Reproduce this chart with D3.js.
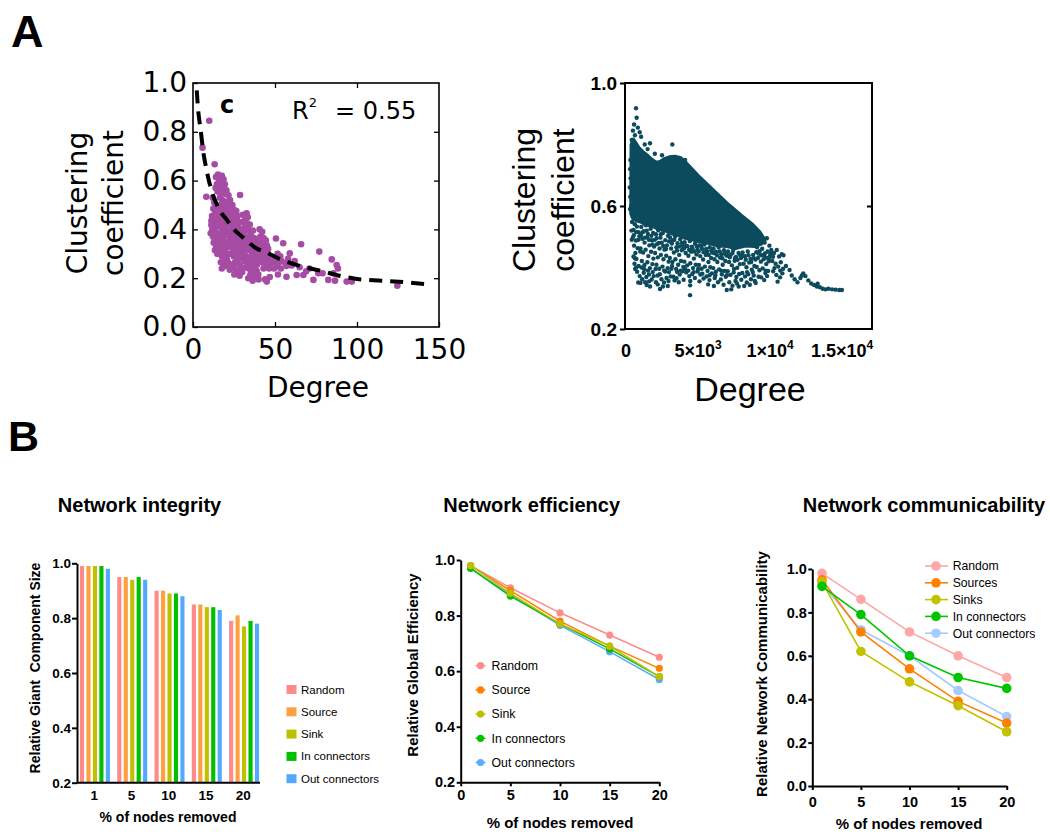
<!DOCTYPE html>
<html>
<head>
<meta charset="utf-8">
<script src="https://cdn.jsdelivr.net/npm/d3@7"></script>
<style>
  body { margin: 0; background: #fff; }
  svg { display: block; }
</style>
</head>
<body>
<svg id="fig" width="1050" height="832"></svg>
<script>
// ---------- Panel A (left): clustering vs degree, small network ----------
const smallNetPoints = [
  [5.8,.735],[9.9,.845],[13.2,.667],[8.1,.534],[28.7,.541],[32.7,.466],[11.2,.418],[10.8,.384],
  [14.0,.615],[15.2,.625],[16.4,.612],[17.6,.62],[18.6,.605],[15.8,.598],[14.6,.585],[17.0,.59],[19.4,.585],
  [13.8,.57],[16.2,.572],[18.2,.565],[20.4,.56],[15.0,.555],[17.4,.55],[19.8,.545],[21.6,.54],
  [12.0,.53],[13.0,.51],[14.2,.50],[12.4,.485],[13.6,.47],[15.4,.48],[11.6,.455],[12.8,.445],[14.0,.44],
  [15.6,.45],[11.2,.435],[12.6,.42],[13.8,.41],[15.2,.42],[11.8,.40],[13.2,.39],[14.6,.385],[12.2,.37],
  [13.6,.36],[15.0,.355],[12.6,.345],[14.2,.33],[15.6,.325],[13.4,.315],[14.8,.30],
  [16.4,.53],[17.8,.52],[19.2,.515],[20.6,.51],[16.8,.50],[18.4,.495],[19.8,.49],[21.2,.49],[17.2,.475],
  [18.8,.47],[20.2,.465],[21.8,.47],[16.6,.455],[18.0,.45],[19.6,.445],[21.0,.445],[17.4,.43],[18.8,.425],
  [20.4,.42],[21.8,.425],[16.8,.41],[18.2,.40],[19.6,.40],[21.2,.395],[17.6,.385],[19.0,.375],[20.6,.38],
  [22.0,.375],[16.6,.365],[18.2,.355],[19.8,.35],[21.4,.35],[17.2,.34],[18.8,.33],[20.4,.325],[22.0,.33],
  [16.8,.315],[18.2,.305],[19.6,.30],[21.2,.30],[17.6,.29],[19.2,.28],[20.8,.275],[17.0,.265],[18.6,.258],
  [20.2,.25],[17.6,.24],[21.8,.26],[22.4,.235],
  [22.6,.52],[24.0,.50],[23.2,.485],[25.0,.48],[26.4,.475],[22.8,.46],[24.4,.455],[25.8,.45],[27.2,.455],
  [23.4,.44],[25.0,.43],[26.6,.435],[28.0,.43],[22.8,.42],[24.2,.41],[25.8,.405],[27.4,.41],[28.8,.40],
  [23.4,.39],[24.8,.385],[26.4,.38],[27.8,.385],[29.4,.38],[22.8,.37],[24.2,.36],[25.6,.355],[27.2,.36],
  [28.6,.355],[23.6,.34],[25.2,.335],[26.8,.33],[28.2,.335],[29.6,.33],[24.4,.315],[26.0,.31],[27.6,.305],
  [29.0,.31],[23.2,.30],[24.8,.29],[26.4,.285],[28.0,.28],[29.4,.285],[25.6,.265],[27.2,.26],[28.8,.255],
  [24.0,.25],[26.0,.235],[27.8,.23],[29.4,.24],[25.2,.215],[28.4,.21],[30.0,.225],
  [30.4,.46],[31.8,.445],[33.4,.45],[30.2,.43],[31.6,.42],[33.0,.425],[34.6,.42],[30.8,.40],[32.2,.395],
  [33.8,.40],[35.2,.39],[36.6,.395],[31.0,.375],[32.6,.37],[34.0,.365],[35.6,.37],[37.0,.365],[38.4,.36],
  [30.6,.35],[32.0,.345],[33.4,.34],[35.0,.345],[36.4,.34],[37.8,.335],[39.2,.34],[31.2,.32],[32.8,.315],
  [34.4,.315],[36.0,.31],[37.4,.315],[38.8,.31],[30.6,.295],[32.2,.29],[33.8,.285],[35.4,.29],[36.8,.285],
  [38.2,.29],[39.6,.28],[31.4,.27],[33.0,.265],[34.6,.26],[36.2,.265],[37.6,.26],[39.0,.255],[32.2,.245],
  [34.0,.24],[35.6,.235],[37.2,.24],[38.8,.23],[33.7,.20],[35.0,.215],[36.8,.21],[38.4,.205],[39.8,.215],
  [36.4,.19],[40.0,.195],
  [40.6,.40],[42.2,.39],[41.0,.37],[42.8,.36],[44.4,.355],[40.4,.345],[41.8,.335],[43.4,.33],[45.0,.335],
  [40.8,.315],[42.4,.31],[44.0,.305],[45.6,.30],[41.2,.29],[42.8,.285],[44.6,.28],[46.2,.285],[47.6,.28],
  [40.6,.27],[42.2,.265],[43.8,.26],[45.4,.255],[47.0,.26],[48.6,.265],[43.0,.24],[46.4,.24],[49.4,.24],
  [44.0,.195],[45.0,.186],[46.8,.205],[43.0,.365],[45.8,.32],
  [50.6,.363],[55,.343],[51.6,.30],[53.2,.29],[50.4,.275],[52.0,.262],[54.0,.27],[56.2,.262],[51.2,.248],
  [53.6,.24],[57.0,.25],[51.8,.215],[57,.206],[59,.302],[60.2,.252],[63.2,.213],[62.0,.27],[58.0,.28],
  [65.9,.339],[65.0,.245],[67.3,.213],[69.0,.228],
  [73.4,.193],[76.4,.22],[77,.309],[71.0,.24],[79,.22],[82.5,.193],[84.6,.277],[85.6,.22],[86.6,.19],
  [87.6,.254],[88.4,.24],[93.7,.186],[96.8,.186],[124.6,.169]
];
// fitted decay curve, sampled along the dashed line
const fitDegree     = [2.3, 3, 4, 5, 6, 7.5, 9, 11.5, 14, 17, 20, 25, 30, 38, 45, 53, 62, 70, 77, 88, 100, 115, 130, 142];
const fitClustering = [0.97, 0.90, 0.84, 0.79, 0.73, 0.67, 0.62, 0.555, 0.51, 0.47, 0.445, 0.40, 0.37, 0.325, 0.305, 0.278, 0.257, 0.242, 0.232, 0.212, 0.197, 0.19, 0.183, 0.176];
const leftYTicks = [0, 0.2, 0.4, 0.6, 0.8, 1.0];
const leftXTicks = [0, 50, 100, 150];

// ---------- Panel A (right): clustering vs degree, large network ----------
// outline of the saturated core of the point cloud (degree, clustering)
const coreOutline = [
  [350,.80],[500,.818],[700,.805],[900,.79],[1200,.776],[1500,.765],[1800,.752],[2100,.742],[2400,.746],
  [2700,.755],[3000,.76],[3400,.762],[3800,.757],[4200,.74],[5000,.70],[6000,.655],[7000,.61],[8000,.57],
  [8800,.54],[9300,.515],[9650,.49],[9400,.476],[8900,.468],[8300,.47],[7600,.462],[7000,.468],[6400,.47],
  [5800,.478],[5200,.482],[4600,.49],[4100,.495],[3600,.505],[3100,.51],[2700,.52],[2200,.525],[1800,.535],
  [1400,.538],[1000,.548],[700,.552],[450,.56],[330,.575]
];
const largeNetPoints = [
  [694,.918],[740,.887],[560,.865],[820,.855],[480,.845],[950,.84],[620,.83],[1050,.825],[400,.815],
  [1300,.80],[1667,.804],[3215,.80],[1500,.785],[2000,.77],[300,.75],[280,.72],[320,.69],[260,.66],
  [300,.63],[350,.60],[280,.59],[4100,.75],[2500,.765],
  [420,.548],[530,.522],[610,.541],[760,.533],[880,.515],[470,.497],[690,.488],[930,.502],[560,.471],
  [810,.463],[650,.447],[990,.452],[720,.428],[590,.412],[880,.405],[770,.386],[950,.372],[640,.395],
  [520,.436],[850,.351],[380,.52],[400,.49],
  [1060,.532],[1230,.518],[1380,.537],[1520,.509],[1710,.526],[1880,.512],[1130,.493],[1290,.481],
  [1470,.498],[1620,.472],[1790,.489],[1950,.468],[1010,.462],[1190,.449],[1360,.458],[1550,.437],
  [1740,.451],[1900,.429],[1100,.421],[1280,.408],[1480,.417],[1660,.398],[1830,.411],[1230,.383],
  [1410,.369],[1590,.377],[1780,.361],[1435,.343],[1920,.372],[1120,.362],[1670,.338],[1330,.352],
  [2080,.508],[2240,.521],[2390,.497],[2560,.512],[2730,.489],[2910,.503],[2150,.476],[2330,.462],
  [2480,.481],[2670,.458],[2840,.472],[2020,.447],[2210,.433],[2420,.441],[2600,.427],[2790,.438],
  [2960,.419],[2110,.409],[2300,.396],[2530,.403],[2720,.387],[2890,.398],[2190,.374],[2361,.33],
  [2460,.362],[2640,.351],[2810,.366],[2080,.352],[2560,.338],[2950,.356],
  [3060,.497],[3240,.488],[3410,.501],[3580,.479],[3760,.492],[3930,.471],[3130,.462],[3320,.449],
  [3500,.466],[3690,.441],[3870,.456],[3040,.431],[3220,.418],[3430,.427],[3620,.409],[3810,.421],
  [3980,.402],[3150,.396],[3287,.37],[3540,.386],[3730,.377],[3910,.388],[3370,.358],[3090,.371],[3660,.352],
  [4070,.482],[4260,.469],[4430,.486],[4610,.463],[4790,.477],[4960,.458],[4140,.447],[4330,.438],
  [4520,.451],[4710,.429],[4890,.442],[4050,.419],[4240,.407],[4460,.414],[4650,.398],[4840,.409],
  [4180,.384],[4390,.372],[4444,.31],[4450,.342],[4460,.356],[4600,.379],[4780,.366],[4970,.387],
  [5080,.472],[5270,.461],[5440,.475],[5630,.452],[5810,.466],[5980,.449],[5150,.437],[5350,.426],
  [5540,.441],[5720,.418],[5900,.431],[5060,.408],[5250,.396],[5470,.403],[5660,.389],[5850,.401],
  [5160,.377],[5380,.364],[5590,.371],[5790,.359],[5960,.381],
  [6070,.462],[6250,.451],[6430,.466],[6620,.443],[6800,.456],[6970,.439],[6140,.427],[6340,.418],
  [6530,.432],[6710,.409],[6890,.421],[6050,.398],[6240,.386],[6460,.394],[6650,.378],[6840,.389],
  [6160,.366],[6380,.352],[6580,.361],[6990,.327],[6770,.344],[6920,.37],
  [7080,.452],[7260,.441],[7440,.457],[7630,.434],[7810,.447],[7980,.431],[7150,.418],[7350,.407],
  [7540,.422],[7720,.399],[7900,.411],[7060,.388],[7250,.376],[7470,.384],[7660,.369],[7850,.379],
  [7170,.352],[7390,.341],[7600,.356],[7820,.338],[7300,.329],
  [8090,.449],[8270,.437],[8450,.452],[8640,.428],[8820,.441],[8990,.426],[8160,.412],[8360,.401],
  [8550,.416],[8730,.393],[8910,.405],[8070,.382],[8260,.371],[8480,.378],[8670,.362],[8860,.374],
  [8380,.351],[8590,.344],[8940,.356],
  [9090,.466],[9270,.453],[9450,.461],[9640,.446],[9820,.452],[9990,.437],[9160,.431],[9360,.419],
  [9550,.427],[9730,.411],[9910,.42],[9070,.402],[9260,.391],[9480,.397],[9670,.382],[9860,.389],
  [9380,.368],[9590,.359],[9790,.372],[9300,.505],[9770,.495],[9620,.481],[9950,.471],
  [10080,.457],[10270,.447],[10460,.457],[10620,.436],[10810,.443],[10926,.44],[10150,.421],[10380,.412],
  [10560,.403],[10740,.417],[10900,.396],[10210,.388],[10430,.376],[10690,.368],[10520,.354],[10850,.381],
  [11100,.405],[11350,.392],[11500,.374],[11700,.362],[11900,.352],[12100,.366],[12300,.381],[12450,.372],
  [12650,.358],[12850,.348],[13050,.343],[13240,.338],[13450,.336],[13650,.331],[13850,.329],[14050,.331],
  [14300,.329],[14550,.328],[14800,.327],[14980,.327],[13300,.347],[12200,.374],
  // fringe just under the saturated core
  [540,.505],[720,.515],[860,.49],[1040,.505],[1160,.515],[1320,.497],[1440,.52],[1590,.49],[1760,.503],
  [1840,.475],[1990,.49],[2120,.495],[2280,.48],[2420,.508],[2580,.47],[2780,.46],[2990,.485],[3180,.478],
  [3350,.49],[3540,.455],[3720,.468],[3880,.48],[4020,.462],[4180,.47],[4380,.457],[4560,.468],[4740,.452],
  [4920,.468],[5040,.452],[5210,.47],[5380,.45],[5560,.46],[5740,.441],[5920,.455],[6120,.447],[6310,.44],
  [6500,.452],[6680,.43],[6860,.445],[7020,.44],[7200,.433],[7390,.447],[7560,.43],[7740,.425],[7930,.44],
  [8120,.437],[8310,.425],[8500,.44],[8690,.418],[8870,.43],[9040,.45],[9200,.445],[9380,.44],[9560,.44],
  [9740,.432],[9920,.43],[10020,.445],[10200,.435],
  [620,.43],[700,.40],[1080,.40],[1260,.395],[1520,.39],[1850,.385],[2050,.395],[2350,.378],[2650,.39],
  [2980,.385],[3200,.405],[3480,.395],[3780,.39],[4100,.395],[4320,.39],[4700,.385],[5000,.395],[5300,.38],
  [5800,.375],[6200,.375],[6600,.39],[7000,.375],[7500,.395],[8000,.36],[8400,.385],[8800,.385],[9200,.37],
  [9700,.39],[10300,.398],[10700,.39],
  [1000,.35],[1600,.355],[2200,.345],[2900,.34],[3500,.365],[4000,.36],[5100,.355],[5700,.345],[6100,.34],
  [7700,.348],[8200,.34],[9000,.35]
];
const rightYTicks = [0.2, 0.6, 1.0];
const rightXTicks = [0, 5000, 10000, 15000];
const rightXMantissa = ["0", "5", "1", "1.5"];
const rightXExponent = ["", "3", "4", "4"];

// ---------- Panel B ----------
const pctRemoved = [1, 5, 10, 15, 20];
const barSeries = ["Random", "Source", "Sink", "In connectors", "Out connectors"];
const barColors = ["#ff8a8a", "#ffa040", "#c0c000", "#00c000", "#55a8ff"];
const giantRandom = [0.99, 0.95, 0.90, 0.85, 0.79];
const giantSource = [0.99, 0.95, 0.90, 0.85, 0.81];
const giantSink   = [0.99, 0.94, 0.89, 0.84, 0.77];
const giantIn     = [0.99, 0.95, 0.89, 0.84, 0.79];
const giantOut    = [0.98, 0.94, 0.88, 0.83, 0.78];

const effSeries = ["Random", "Source", "Sink", "In connectors", "Out connectors"];
const effColors = ["#ff8c8c", "#ff8000", "#bfbf00", "#00c000", "#5caaff"];
const effRandom = [0.98, 0.90, 0.81, 0.73, 0.65];
const effSource = [0.98, 0.89, 0.78, 0.69, 0.61];
const effSink   = [0.98, 0.88, 0.77, 0.69, 0.58];
const effIn     = [0.97, 0.87, 0.77, 0.68, 0.58];
const effOut    = [0.97, 0.875, 0.765, 0.67, 0.57];

const commSeries = ["Random", "Sources", "Sinks", "In connectors", "Out connectors"];
const commColors = ["#ffa6a6", "#ff7f00", "#c2c200", "#00c400", "#a6cbff"];
const commRandom  = [0.98, 0.86, 0.71, 0.60, 0.50];
const commSources = [0.95, 0.71, 0.54, 0.39, 0.29];
const commSinks   = [0.94, 0.62, 0.48, 0.37, 0.25];
const commIn      = [0.92, 0.79, 0.60, 0.50, 0.45];
const commOut     = [0.93, 0.72, 0.60, 0.44, 0.32];

const lineTicksX = [0, 5, 10, 15, 20];
const effTicksY = [0.2, 0.4, 0.6, 0.8, 1.0];
const commTicksY = [0, 0.2, 0.4, 0.6, 0.8, 1.0];

// ---------- drawing ----------
const svg = d3.select("#fig");
const MPL = "'DejaVu Sans', sans-serif";
const ARIAL = "'Liberation Sans', Arial, sans-serif";
const f1 = d3.format(".1f");

function axisFont(g, size, family, weight) {
  g.attr("font-size", size).attr("font-family", family).attr("font-weight", weight);
  g.selectAll("text").attr("fill", "#000");
}

// panel letters
svg.append("text").attr("x", 11).attr("y", 47).attr("font-family", ARIAL).attr("font-weight", "bold")
  .attr("font-size", 45).text("A");
svg.append("text").attr("x", 8).attr("y", 451).attr("font-family", ARIAL).attr("font-weight", "bold")
  .attr("font-size", 43).text("B");

// ----- A left -----
{
  const x = d3.scaleLinear([0, 150], [193, 439]);
  const y = d3.scaleLinear([0, 1], [327, 83]);
  const g = svg.append("g");
  g.append("clipPath").attr("id", "clipAL").append("rect")
    .attr("x", 193).attr("y", 83).attr("width", 246).attr("height", 244);
  const plot = g.append("g").attr("clip-path", "url(#clipAL)");
  plot.selectAll("circle").data(smallNetPoints).join("circle")
    .attr("cx", d => x(d[0])).attr("cy", d => y(d[1])).attr("r", 3.3).attr("fill", "#a64ca4");
  plot.append("path").datum(d3.zip(fitDegree, fitClustering))
    .attr("d", d3.line().x(d => x(d[0])).y(d => y(d[1])).curve(d3.curveMonotoneX))
    .attr("fill", "none").attr("stroke", "#000").attr("stroke-width", 4).attr("stroke-dasharray", "13,8");

  const left = g.append("g").attr("transform", "translate(193,0)")
    .call(d3.axisLeft(y).tickValues(leftYTicks).tickFormat(f1).tickSizeInner(-5).tickSizeOuter(0).tickPadding(6));
  const bottom = g.append("g").attr("transform", "translate(0,327)")
    .call(d3.axisBottom(x).tickValues(leftXTicks).tickSizeInner(-5).tickSizeOuter(0).tickPadding(12));
  const top = g.append("g").attr("transform", "translate(0,83)")
    .call(d3.axisTop(x).tickValues([50, 100]).tickFormat("").tickSizeInner(-5).tickSizeOuter(0));
  const right = g.append("g").attr("transform", "translate(439,0)")
    .call(d3.axisRight(y).tickValues([0.2, 0.4, 0.6, 0.8]).tickFormat("").tickSizeInner(-5).tickSizeOuter(0));
  [left, bottom, top, right].forEach(a => {
    axisFont(a, 28, MPL, "normal");
    a.select(".domain").remove();
    a.selectAll("line").attr("stroke", "#000").attr("stroke-width", 1.3);
  });
  g.append("rect").attr("x", 193).attr("y", 83).attr("width", 246).attr("height", 244)
    .attr("fill", "none").attr("stroke", "#000").attr("stroke-width", 1.6);

  g.append("text").attr("x", 220).attr("y", 113).attr("font-family", MPL).attr("font-weight", "bold")
    .attr("font-size", 24).text("c");
  const r2 = g.append("text").attr("y", 119).attr("font-family", MPL).attr("font-size", 24);
  r2.append("tspan").attr("x", 292).text("R");
  r2.append("tspan").attr("dy", -12).attr("font-size", 13).text("2");
  r2.append("tspan").attr("x", 335).attr("dy", 12).text("= 0.55");

  const yl = g.append("g").attr("transform", "translate(0,203) rotate(-90)")
    .attr("font-family", MPL).attr("font-size", 28).attr("text-anchor", "middle");
  yl.append("text").attr("x", 0).attr("y", 87).text("Clustering");
  yl.append("text").attr("x", 0).attr("y", 123).text("coefficient");
  g.append("text").attr("x", 318).attr("y", 397).attr("text-anchor", "middle")
    .attr("font-family", MPL).attr("font-size", 28).text("Degree");
}

// ----- A right -----
{
  const x = d3.scaleLinear([0, 17000], [626, 871]);
  const y = d3.scaleLinear([0.2, 1], [329, 83]);
  const g = svg.append("g");
  const teal = "#0b4b5d";
  g.append("path").datum(coreOutline)
    .attr("d", d3.line().x(d => x(d[0])).y(d => y(d[1])).curve(d3.curveLinearClosed))
    .attr("fill", teal).attr("stroke", teal).attr("stroke-width", 3).attr("stroke-linejoin", "round");
  g.selectAll("circle.p").data(largeNetPoints).join("circle").attr("class", "p")
    .attr("cx", d => x(d[0])).attr("cy", d => y(d[1])).attr("r", 2.2).attr("fill", teal);

  g.append("rect").attr("x", 625).attr("y", 83).attr("width", 247).attr("height", 246)
    .attr("fill", "none").attr("stroke", "#000").attr("stroke-width", 2);
  const left = g.append("g").attr("transform", "translate(625,0)")
    .call(d3.axisLeft(y).tickValues(rightYTicks).tickFormat(f1).tickSize(5).tickPadding(3));
  const right = g.append("g").attr("transform", "translate(872,0)")
    .call(d3.axisRight(y).tickValues([0.6]).tickFormat("").tickSizeInner(-5).tickSizeOuter(0));
  [left, right].forEach(a => {
    axisFont(a, 19, ARIAL, "bold");
    a.select(".domain").remove();
    a.selectAll("line").attr("stroke", "#000").attr("stroke-width", 2);
  });
  const xt = g.append("g").attr("font-family", ARIAL).attr("font-weight", "bold").attr("font-size", 18)
    .attr("text-anchor", "middle");
  rightXTicks.forEach((v, i) => {
    const t = xt.append("text").attr("x", x(v)).attr("y", 357);
    t.append("tspan").text(rightXMantissa[i]);
    if (rightXExponent[i]) {
      t.append("tspan").text("×10");
      t.append("tspan").attr("dy", -8).attr("font-size", 12).text(rightXExponent[i]);
    }
  });
  const yl = g.append("g").attr("transform", "translate(0,200) rotate(-90)")
    .attr("font-family", ARIAL).attr("font-size", 32).attr("text-anchor", "middle");
  yl.append("text").attr("x", 0).attr("y", 535).text("Clustering");
  yl.append("text").attr("x", 0).attr("y", 574).text("coefficient");
  g.append("text").attr("x", 750).attr("y", 401).attr("text-anchor", "middle")
    .attr("font-family", ARIAL).attr("font-size", 34).text("Degree");
}

// shared Prism-style helpers for panel B
function prismAxes(g, x, y, x0, y0, xTicks, yTicks, opts) {
  const ax = g.append("g").attr("transform", `translate(0,${y0})`)
    .call(d3.axisBottom(x).tickValues(xTicks).tickSize(opts.xTick).tickSizeOuter(0).tickPadding(opts.xPad));
  const ay = g.append("g").attr("transform", `translate(${x0},0)`)
    .call(d3.axisLeft(y).tickValues(yTicks).tickFormat(f1).tickSize(4).tickSizeOuter(0).tickPadding(1.5));
  [ax, ay].forEach(a => {
    axisFont(a, opts.font, ARIAL, "bold");
    a.selectAll("line").attr("stroke", "#000").attr("stroke-width", 2);
    a.select(".domain").attr("stroke", "#000").attr("stroke-width", 2);
  });
  return [ax, ay];
}
function boldText(g, x, y, size, txt, rotate) {
  const t = g.append("text").attr("font-family", ARIAL).attr("font-weight", "bold")
    .attr("font-size", size).attr("text-anchor", "middle").style("white-space", "pre").text(txt);
  if (rotate) t.attr("transform", `translate(${x},${y}) rotate(-90)`);
  else t.attr("x", x).attr("y", y);
  return t;
}

// ----- B: network integrity (bars) -----
{
  const g = svg.append("g");
  const xg = d3.scaleBand(pctRemoved, [75.6, 262]);
  const xs = d3.scaleBand(barSeries, [4.35, 34.35]).paddingInner(0.36);
  const y = d3.scaleLinear([0.2, 1.0], [782.7, 563.3]);
  const values = [giantRandom, giantSource, giantSink, giantIn, giantOut];
  values.forEach((vals, si) => {
    g.selectAll(null).data(vals).join("rect")
      .attr("x", (d, i) => xg(pctRemoved[i]) + xs(barSeries[si]))
      .attr("width", xs.bandwidth())
      .attr("y", d => y(d)).attr("height", d => y(0.2) - y(d))
      .attr("fill", barColors[si]);
  });
  const ax = g.append("g").attr("transform", "translate(0,782.7)")
    .call(d3.axisBottom(xg).tickSize(0).tickPadding(8));
  const ay = g.append("g").attr("transform", "translate(77,0)")
    .call(d3.axisLeft(y).tickValues(effTicksY).tickFormat(f1).tickSize(5).tickSizeOuter(0).tickPadding(1));
  [ax, ay].forEach(a => {
    axisFont(a, 13.5, ARIAL, "bold");
    a.selectAll("line").attr("stroke", "#000").attr("stroke-width", 2);
    a.select(".domain").attr("stroke", "#000").attr("stroke-width", 2);
  });
  ax.select(".domain").attr("d", "M77,0H260");

  const lg = g.append("g").attr("font-family", ARIAL).attr("font-size", 11.5);
  barSeries.forEach((s, i) => {
    const cy = 689.5 + i * 22.3;
    lg.append("rect").attr("x", 286.5).attr("y", cy - 4.5).attr("width", 10).attr("height", 9).attr("fill", barColors[i]);
    lg.append("text").attr("x", 301).attr("y", cy + 4).text(s);
  });
  boldText(g, 139.5, 512, 20, "Network integrity");
  boldText(g, 40, 668, 14, "Relative Giant  Component Size", true);
  boldText(g, 168, 822, 14, "% of nodes removed");
}

// line panel helper
function linePanel(g, x, y, seriesVals, colors, order, r, lw) {
  order.forEach(si => {
    const pts = d3.zip(pctRemoved, seriesVals[si]);
    g.append("path").datum(pts)
      .attr("d", d3.line().x(d => x(d[0])).y(d => y(d[1])))
      .attr("fill", "none").attr("stroke", colors[si]).attr("stroke-width", lw);
    g.selectAll(null).data(pts).join("circle")
      .attr("cx", d => x(d[0])).attr("cy", d => y(d[1])).attr("r", r).attr("fill", colors[si]);
  });
}

// ----- B: network efficiency -----
{
  const g = svg.append("g");
  const x = d3.scaleLinear([0, 20], [460.7, 659.3]);
  const y = d3.scaleLinear([0.2, 1.0], [782.3, 560]);
  prismAxes(g, x, y, 460.7, 782.3, lineTicksX, effTicksY, { xTick: 4, xPad: 3.5, font: 14.5 });
  linePanel(g, x, y, [effRandom, effSource, effSink, effIn, effOut], effColors, [0, 4, 3, 1, 2], 3.6, 1.5);
  const lg = g.append("g").attr("font-family", ARIAL).attr("font-size", 12.3);
  effSeries.forEach((s, i) => {
    const cy = 665.7 + i * 24.2;
    lg.append("line").attr("x1", 475.5).attr("x2", 485.5).attr("y1", cy).attr("y2", cy)
      .attr("stroke", effColors[i]).attr("stroke-width", 1.5);
    lg.append("circle").attr("cx", 480.5).attr("cy", cy).attr("r", 3.6).attr("fill", effColors[i]);
    lg.append("text").attr("x", 491.5).attr("y", cy + 4.3).text(s);
  });
  boldText(g, 531.7, 512, 20, "Network efficiency");
  boldText(g, 417.5, 665, 15, "Relative Global Efficiency", true);
  boldText(g, 560, 828, 15, "% of nodes removed");
}

// ----- B: network communicability -----
{
  const g = svg.append("g");
  const x = d3.scaleLinear([0, 20], [812.3, 1006.7]);
  const y = d3.scaleLinear([0, 1.0], [786, 569]);
  prismAxes(g, x, y, 812.3, 786, lineTicksX, commTicksY, { xTick: 4, xPad: 6.5, font: 14.5 });
  linePanel(g, x, y, [commRandom, commSources, commSinks, commIn, commOut], commColors, [4, 0, 1, 2, 3], 4.8, 1.6);
  const lg = g.append("g").attr("font-family", ARIAL).attr("font-size", 12.2);
  commSeries.forEach((s, i) => {
    const cy = 566 + i * 16.8;
    lg.append("line").attr("x1", 925).attr("x2", 948).attr("y1", cy).attr("y2", cy)
      .attr("stroke", commColors[i]).attr("stroke-width", 1.6);
    lg.append("circle").attr("cx", 936).attr("cy", cy).attr("r", 4.8).attr("fill", commColors[i]);
    lg.append("text").attr("x", 952.7).attr("y", cy + 4.3).text(s);
  });
  boldText(g, 924, 512, 20, "Network communicability");
  boldText(g, 767.4, 674, 15, "Relative Network Communicability", true);
  boldText(g, 909, 829, 15, "% of nodes removed");
}
</script>
</body>
</html>
